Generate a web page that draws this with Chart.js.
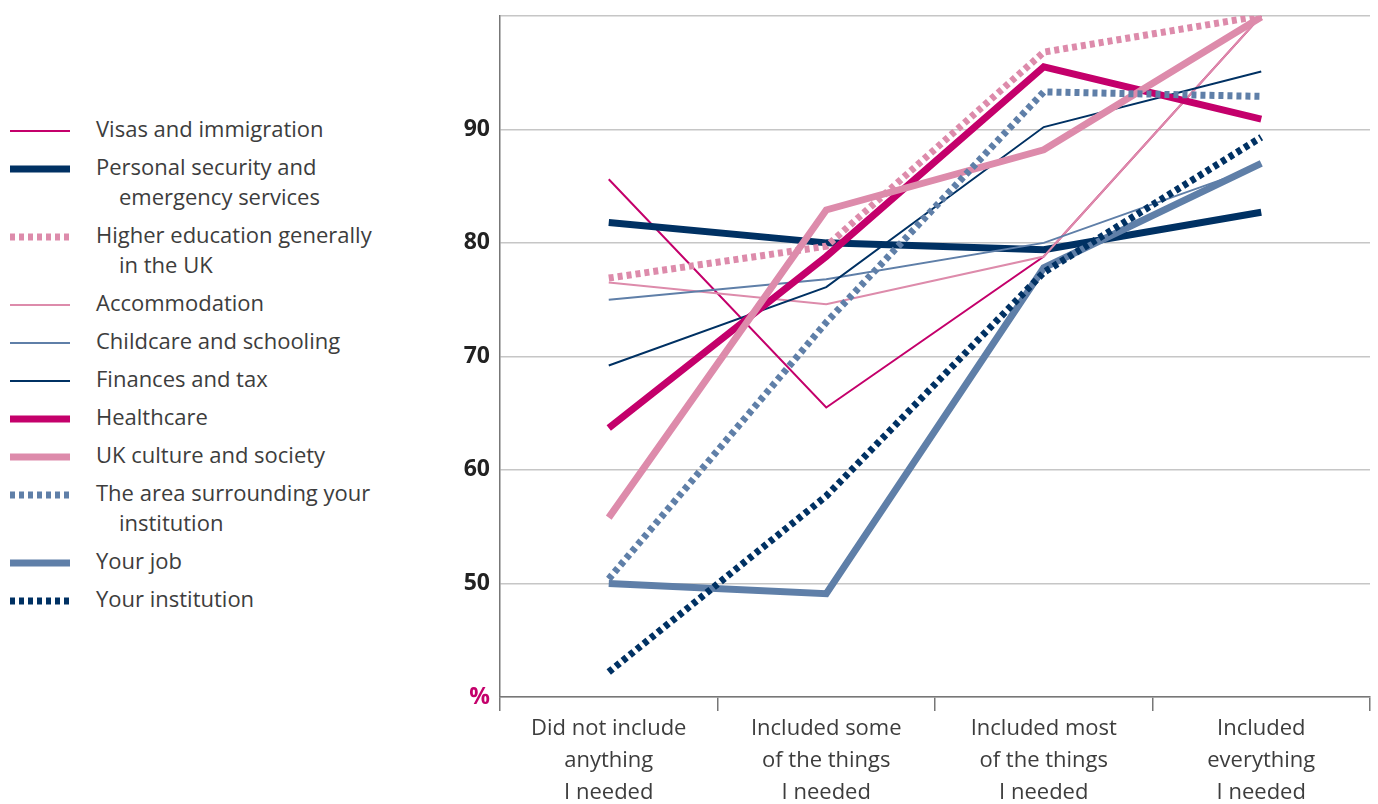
<!DOCTYPE html>
<html>
<head>
<meta charset="utf-8">
<script src="https://cdn.jsdelivr.net/npm/chart.js@4/dist/chart.umd.min.js"></script>
<style>
  html, body { margin: 0; padding: 0; background: #fff; }
  body { width: 1378px; height: 804px; position: relative; overflow: hidden; font-family: "Open Sans", sans-serif; }
  #legend { position: absolute; left: 0; top: 110px; width: 420px; }
  .row { position: relative; height: 38px; }
  .row.two { height: 68px; }
  .row canvas { position: absolute; left: 8px; top: 15px; }
  .row .txt { position: absolute; left: 96px; top: 3px; font-size: 22px; line-height: 30px; color: #3d3d3d; }
  .row .txt span { display: block; }
  .row .txt span + span { padding-left: 23px; }
  #wrap { position: absolute; left: 430px; top: -8px; width: 948px; height: 812px; }
</style>
</head>
<body>
<div id="legend"></div>
<div id="wrap"><canvas id="myChart"></canvas></div>
<script>
// categories (x axis)
const categories = [
  ['Did not include', 'anything', 'I needed'],
  ['Included some', 'of the things', 'I needed'],
  ['Included most', 'of the things', 'I needed'],
  ['Included', 'everything', 'I needed']
];

// series values, %
const visas         = [85.6, 65.5, 78.8, 100];
const security      = [81.8, 80.0, 79.4, 82.7];
const higherEd      = [76.9, 79.7, 96.8, 100];
const accommodation = [76.5, 74.6, 78.8, 100];
const childcare     = [75.0, 76.8, 80.0, 86.8];
const finances      = [69.2, 76.1, 90.2, 95.1];
const healthcare    = [63.7, 78.8, 95.5, 90.9];
const culture       = [55.8, 82.9, 88.2, 99.9];
const area          = [50.4, 73.0, 93.3, 92.9];
const job           = [50.0, 49.1, 77.8, 87.0];
const institution   = [42.2, 57.7, 77.4, 89.3];

// y axis ticks
const yTicks = [40, 50, 60, 70, 80, 90, 100];

const MAGENTA = '#c4006b';
const NAVY = '#003163';
const PINK = '#dd8bab';
const STEEL = '#5f7fa8';

const series = [
  { label: ['Visas and immigration'], data: visas, color: MAGENTA, width: 2, dash: [] },
  { label: ['Personal security and', 'emergency services'], data: security, color: NAVY, width: 7, dash: [] },
  { label: ['Higher education generally', 'in the UK'], data: higherEd, color: PINK, width: 7, dash: [5, 4] },
  { label: ['Accommodation'], data: accommodation, color: PINK, width: 2, dash: [] },
  { label: ['Childcare and schooling'], data: childcare, color: STEEL, width: 2, dash: [] },
  { label: ['Finances and tax'], data: finances, color: NAVY, width: 2, dash: [] },
  { label: ['Healthcare'], data: healthcare, color: MAGENTA, width: 7, dash: [] },
  { label: ['UK culture and society'], data: culture, color: PINK, width: 7, dash: [] },
  { label: ['The area surrounding your', 'institution'], data: area, color: STEEL, width: 7, dash: [5, 4] },
  { label: ['Your job'], data: job, color: STEEL, width: 7, dash: [] },
  { label: ['Your institution'], data: institution, color: NAVY, width: 7, dash: [5, 4] }
];

// html legend
const legend = document.getElementById('legend');
series.forEach(s => {
  const row = document.createElement('div');
  row.className = 'row' + (s.label.length > 1 ? ' two' : '');
  const c = document.createElement('canvas');
  c.width = 64; c.height = 12;
  const g = c.getContext('2d');
  g.strokeStyle = s.color;
  g.lineWidth = s.width;
  g.setLineDash(s.dash);
  g.beginPath(); g.moveTo(2, 6); g.lineTo(62, 6); g.stroke();
  row.appendChild(c);
  const t = document.createElement('div');
  t.className = 'txt';
  t.innerHTML = s.label.map(l => '<span>' + l + '</span>').join('');
  row.appendChild(t);
  legend.appendChild(row);
});

const n = series.length;
const datasets = series.map((s, i) => ({
  label: s.label.join(' '),
  data: s.data,
  borderColor: s.color,
  backgroundColor: s.color,
  borderWidth: s.width,
  borderDash: s.dash,
  borderCapStyle: 'butt',
  borderJoinStyle: 'miter',
  pointRadius: 0,
  tension: 0,
  fill: false,
  order: n - i
}));

const ctx = document.getElementById('myChart').getContext('2d');
const myChart = new Chart(ctx, {
  type: 'line',
  data: { labels: categories, datasets: datasets },
  options: {
    responsive: true,
    maintainAspectRatio: false,
    animation: false,
    layout: { padding: { top: 8, right: 8, left: 0, bottom: 0 } },
    plugins: {
      legend: { display: false },
      tooltip: { enabled: false }
    },
    scales: {
      x: {
        offset: true,
        afterFit: scale => { scale.height = 107; },
        border: { color: '#777', width: 1.5 },
        grid: { offset: true, drawOnChartArea: false, drawTicks: true, tickLength: 14, color: '#777', lineWidth: 1.5 },
        ticks: {
          padding: 2,
          maxRotation: 0,
          autoSkip: false,
          color: '#3d3d3d',
          font: { family: 'Open Sans', size: 22, lineHeight: 1.45 }
        }
      },
      y: {
        min: 40,
        max: 100,
        afterFit: scale => { scale.width = 70; },
        afterBuildTicks: scale => { scale.ticks = yTicks.map(v => ({ value: v })); },
        border: { color: '#777', width: 1.5 },
        grid: { drawTicks: false, color: '#c6c6c6', lineWidth: 1.5 },
        ticks: {
          padding: 10,
          color: c => c.tick && c.tick.value === 40 ? MAGENTA : '#222',
          font: { family: 'Open Sans', size: 23, weight: 'bold' },
          callback: v => v === 40 ? '%' : (v === 100 ? '' : v)
        }
      }
    }
  }
});
</script>
</body>
</html>
